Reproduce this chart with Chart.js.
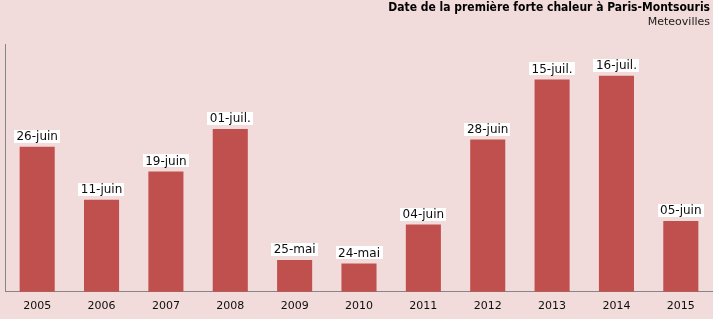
<!DOCTYPE html>
<html>
<head>
<meta charset="utf-8">
<script src="https://cdn.jsdelivr.net/npm/chart.js@4/dist/chart.umd.min.js"></script>
<style>
  html, body { margin: 0; padding: 0; background: #f2dcdb; }
  #wrap { width: 713px; height: 319px; position: relative; }
</style>
</head>
<body>
<div id="wrap"><canvas id="myChart"></canvas></div>
<script>
// years on the x axis
const years = ['2005', '2006', '2007', '2008', '2009', '2010', '2011', '2012', '2013', '2014', '2015']
// date of the first heat wave, as day of the year
const dayOfYear = [177, 162, 170, 182, 145, 144, 155, 179, 196, 197, 156]
// the same date as written above each bar
const dateLabels = ['26-juin', '11-juin', '19-juin', '01-juil.', '25-mai', '24-mai', '04-juin', '28-juin', '15-juil.', '16-juil.', '05-juin']

const FONT = "'DejaVu Sans', sans-serif"
const TITLE_FONT = "'DejaVu Sans Condensed', 'DejaVu Sans', sans-serif"

// white boxes with the date above each bar
const barLabels = {
    id: 'barLabels',
    afterDatasetsDraw(chart) {
        const ctx = chart.ctx
        const meta = chart.getDatasetMeta(0)
        ctx.save()
        ctx.font = '12px ' + FONT
        ctx.textAlign = 'center'
        ctx.textBaseline = 'middle'
        meta.data.forEach((bar, i) => {
            let txt = dateLabels[i]
            let w = ctx.measureText(txt).width + 5
            let h = 13
            let bottom = bar.y - 4
            ctx.fillStyle = '#ffffff'
            ctx.fillRect(Math.round(bar.x - w / 2), Math.round(bottom - h), Math.round(w), h)
            ctx.fillStyle = '#0d0d0d'
            ctx.fillText(txt, bar.x, bottom - h / 2 + 0.5)
        })
        ctx.restore()
    }
}

// title and source in the top right corner
const header = {
    id: 'header',
    afterDraw(chart) {
        const ctx = chart.ctx
        ctx.save()
        ctx.textAlign = 'right'
        ctx.textBaseline = 'middle'
        ctx.fillStyle = '#000000'
        ctx.font = 'bold 12px ' + TITLE_FONT
        ctx.fillText('Date de la première forte chaleur à Paris-Montsouris', 710, 8)
        ctx.fillStyle = '#1a1a1a'
        ctx.font = '11px ' + FONT
        ctx.fillText('Meteovilles', 710, 22)
        ctx.restore()
    }
}

var canvas = document.getElementById('myChart')
var config = {
    type: 'bar',
    data: {
        labels: years,
        datasets: [{
            data: dayOfYear,
            backgroundColor: '#c0504d',
            categoryPercentage: 1.0,
            barPercentage: 0.545
        }]
    },
    options: {
        responsive: false,
        animation: false,
        layout: { padding: { left: 5, right: 0, top: 44, bottom: 0 } },
        plugins: {
            legend: { display: false },
            tooltip: { enabled: false }
        },
        scales: {
            x: {
                grid: { display: false, drawTicks: false },
                border: { display: true, color: '#868686', width: 1 },
                ticks: { color: '#0d0d0d', font: { family: FONT, size: 11 }, padding: 8, maxRotation: 0 },
                afterFit(scale) { scale.height -= 2 }
            },
            y: {
                min: 136,
                max: 206,
                grid: { display: false, drawTicks: false },
                border: { display: true, color: '#868686', width: 1 },
                ticks: { display: false },
                afterFit(scale) { scale.width = 0 }
            }
        }
    },
    plugins: [barLabels, header]
}
canvas.width = 713
canvas.height = 319
myChart = new Chart(canvas, config)
</script>
</body>
</html>
